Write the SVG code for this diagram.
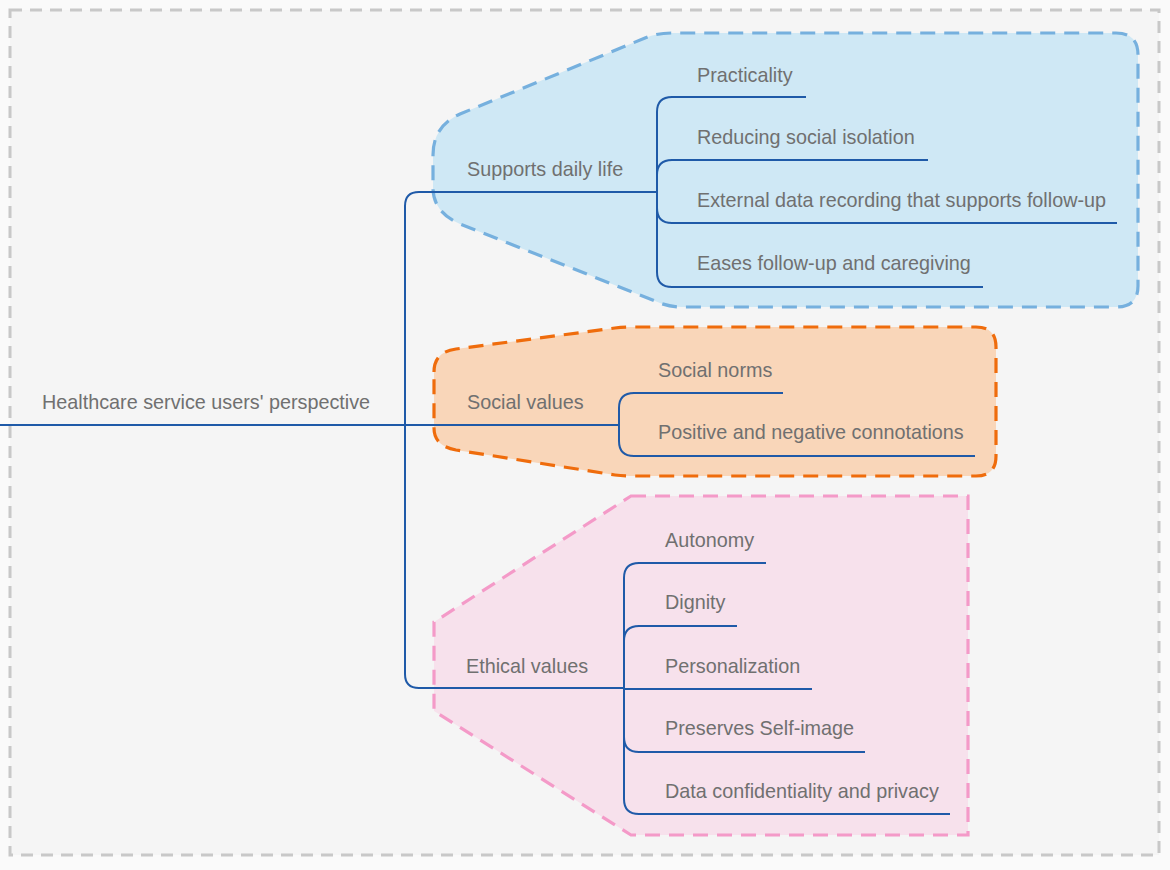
<svg xmlns="http://www.w3.org/2000/svg" width="1170" height="870" viewBox="0 0 1170 870">
<style>
.t{font-family:"Liberation Sans",Arial,sans-serif;font-size:19.8px;fill:#707070}
.c{fill:none;stroke:#1f5aa8;stroke-width:2}
.g{stroke-width:3.2;stroke-dasharray:15 9}
</style>
<rect x="0" y="0" width="1170" height="870" fill="#fafafa"/>
<rect x="10" y="10" width="1149" height="845" fill="#f5f5f5" stroke="#c8c8c8" stroke-width="3" stroke-dasharray="12 8"/>
<g id="group-daily">
<path class="g" d="M433,155 Q433,126 460,114 L645,38 Q657,33 672,33 L1116,33 Q1138,33 1138,55 L1138,286 Q1138,307 1116,307 L682,307 Q668,307 655,301 L460,224 Q433,212 433,188 Z" fill="#cfe8f5" stroke="#76b0de"/>
</g>
<g id="group-social">
<path class="g" d="M434,372 Q434,352 456,349 L615,328 Q622,327 630,327 L976,327 Q996,327 996,347 L996,456 Q996,476 976,476 L630,476 Q622,476 615,475 L456,450 Q434,446 434,428 Z" fill="#f9d6b9" stroke="#ef6c0c"/>
</g>
<g id="group-ethical">
<path class="g" d="M631,496 L968,496 L968,835 L631,835 L434,711 L434,622 Z" fill="#f7e1ec" stroke="#f49ac8"/>
</g>
<g id="connectors">
<path class="c" d="M0,425 H405"/>
<path class="c" d="M405,425 V206 Q405,192 419,192 H657"/>
<path class="c" d="M405,425 H619"/>
<path class="c" d="M405,425 V674 Q405,688 419,688 H624"/>
<path class="c" d="M657,192 V112 Q657,97 672,97 H806"/>
<path class="c" d="M657,192 V175 Q657,160 672,160 H928"/>
<path class="c" d="M657,192 V208 Q657,223 672,223 H1117"/>
<path class="c" d="M657,192 V272 Q657,287 672,287 H983"/>
<path class="c" d="M619,425 V408 Q619,393 634,393 H783"/>
<path class="c" d="M619,425 V441 Q619,456 634,456 H975"/>
<path class="c" d="M624,689 V578 Q624,563 639,563 H766"/>
<path class="c" d="M624,689 V641 Q624,626 639,626 H737"/>
<path class="c" d="M624,689 H812"/>
<path class="c" d="M624,689 V737 Q624,752 639,752 H865"/>
<path class="c" d="M624,689 V799 Q624,814 639,814 H950"/>
</g>
<g id="root"><text class="t" x="42" y="409">Healthcare service users' perspective</text></g>
<g id="n-daily"><text class="t" x="467" y="176">Supports daily life</text></g>
<g id="n-social"><text class="t" x="467" y="409">Social values</text></g>
<g id="n-ethical"><text class="t" x="466" y="673">Ethical values</text></g>
<g id="n-practicality"><text class="t" x="697" y="82">Practicality</text></g>
<g id="n-isolation"><text class="t" x="697" y="144">Reducing social isolation</text></g>
<g id="n-external"><text class="t" x="697" y="207">External data recording that supports follow-up</text></g>
<g id="n-eases"><text class="t" x="697" y="270">Eases follow-up and caregiving</text></g>
<g id="n-norms"><text class="t" x="658" y="377">Social norms</text></g>
<g id="n-connotations"><text class="t" x="658" y="439">Positive and negative connotations</text></g>
<g id="n-autonomy"><text class="t" x="665" y="547">Autonomy</text></g>
<g id="n-dignity"><text class="t" x="665" y="609">Dignity</text></g>
<g id="n-personalization"><text class="t" x="665" y="673">Personalization</text></g>
<g id="n-selfimage"><text class="t" x="665" y="735">Preserves Self-image</text></g>
<g id="n-privacy"><text class="t" x="665" y="798">Data confidentiality and privacy</text></g>
</svg>
